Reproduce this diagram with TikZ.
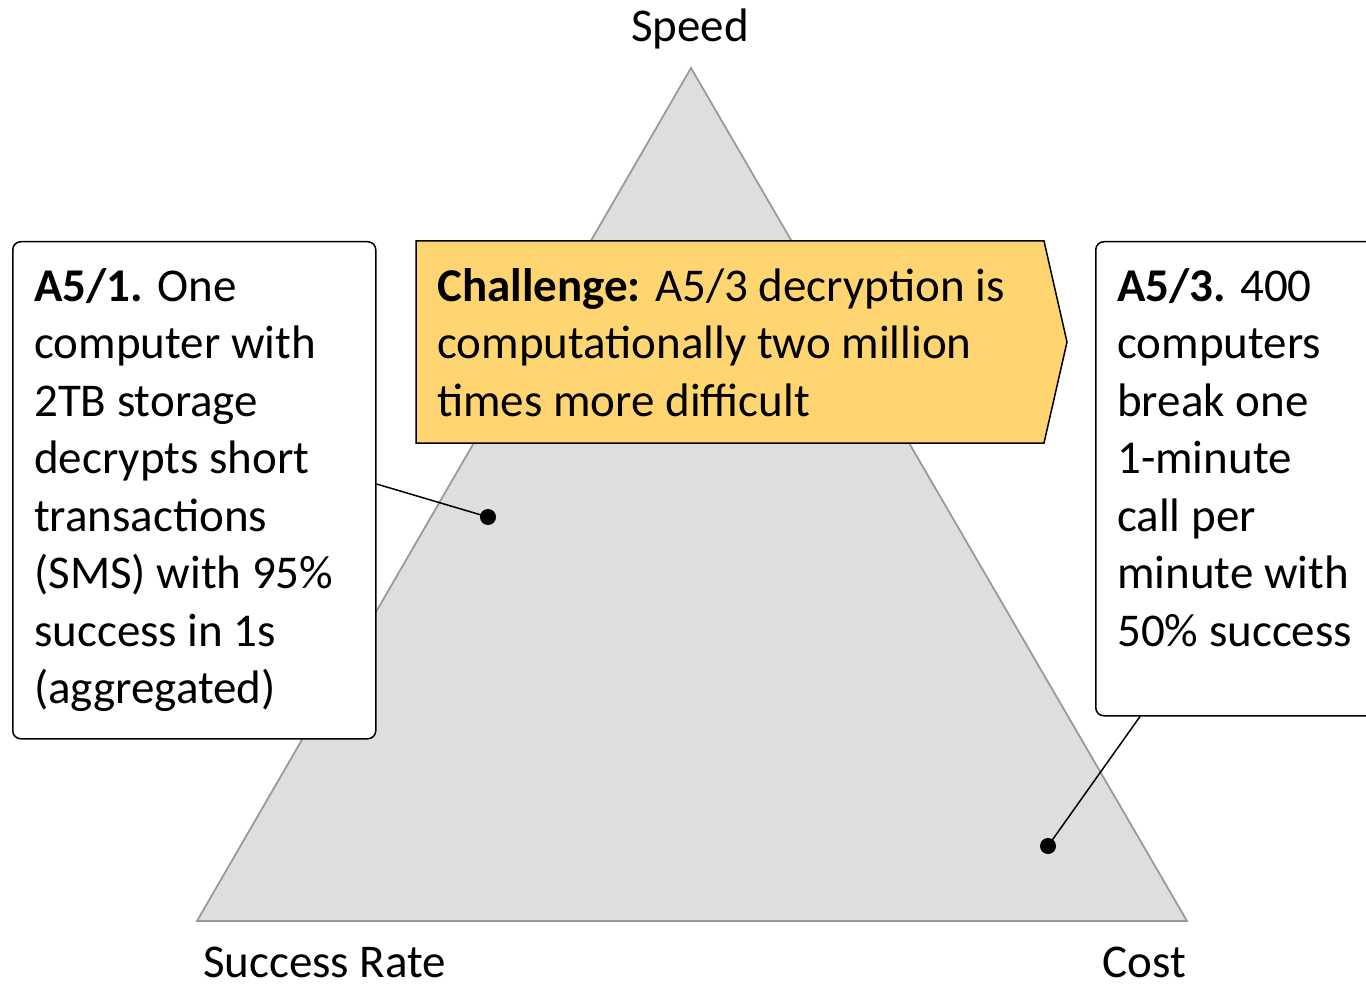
\documentclass[tikz,border=0pt]{standalone}
\usepackage{fontspec}
\setmainfont{Carlito}
\usetikzlibrary{calc}
\definecolor{trifill}{HTML}{DEDEDE}
\definecolor{triedge}{HTML}{9A9A9A}
\definecolor{chalfill}{HTML}{FFD572}
\newcommand{\firststrut}{\rule{0pt}{36pt}}
\begin{document}
\begin{tikzpicture}[x=1pt,y=-1pt,
  txt/.style={font=\fontsize{47}{57.5}\selectfont, align=left, inner sep=0pt, anchor=north west},
  axislabel/.style={font=\fontsize{47}{57.5}\selectfont, inner sep=0pt},
  notebox/.style={draw=black, line width=1.5pt, rounded corners=8pt, fill=white, inner sep=0pt, anchor=north west},
  dotmark/.style={circle, fill=black, inner sep=0pt, minimum size=16pt},
  leadline/.style={draw=black, line width=1.5pt}]
\useasboundingbox (0,0) rectangle (1366,984);

% triangle
\coordinate (top) at (691,68);
\coordinate (bl) at (197,921);
\coordinate (br) at (1187,921);
\draw[draw=triedge, fill=trifill, line width=1.8pt, line join=miter] (top) -- (bl) -- (br) -- cycle;

% axis labels
\node[axislabel, anchor=base] (speed) at (690,42) {Speed};
\node[axislabel, anchor=base west] (rate) at (203,977) {Success Rate};
\node[axislabel, anchor=base east] (cost) at (1186,977) {Cost};

% challenge arrow box
\coordinate (c1) at (416,241);
\coordinate (c2) at (1044,241);
\coordinate (c3) at (1067,342);
\coordinate (c4) at (1044,443);
\coordinate (c5) at (416,443);
\draw[fill=chalfill, draw=black, line width=1.5pt, line join=miter] (c1) -- (c2) -- (c3) -- (c4) -- (c5) -- cycle;
\node[txt] (chtxt) at (437,265) {\firststrut\textbf{Challenge:} A5/3 decryption is\\computationally two million\\times more difficult};

% left box
\node[notebox, minimum width=363pt, minimum height=497pt] (lbox) at (12,241) {};
\node[txt] (ltxt) at ($(lbox.north west)+(22,24)$) {\firststrut\textbf{A5/1.} One\\computer with\\2TB storage\\decrypts short\\transactions\\(SMS) with 95\%\\success in 1s\\(aggregated)};

% right box
\node[notebox, minimum width=320pt, minimum height=474pt] (rbox) at (1095,241) {};
\node[txt] (rtxt) at ($(rbox.north west)+(22,24)$) {\firststrut\textbf{A5/3.} 400\\computers\\break one\\1-minute\\call per\\minute with\\50\% success};

% dots and leader lines
\node[dotmark] (ldot) at (488,517) {};
\node[dotmark] (rdot) at (1048,846) {};
\draw[leadline] ([yshift=-243pt]lbox.north east) -- (ldot.center);
\draw[leadline] ([xshift=45pt]rbox.south west) -- (rdot.center);
\end{tikzpicture}
\end{document}
